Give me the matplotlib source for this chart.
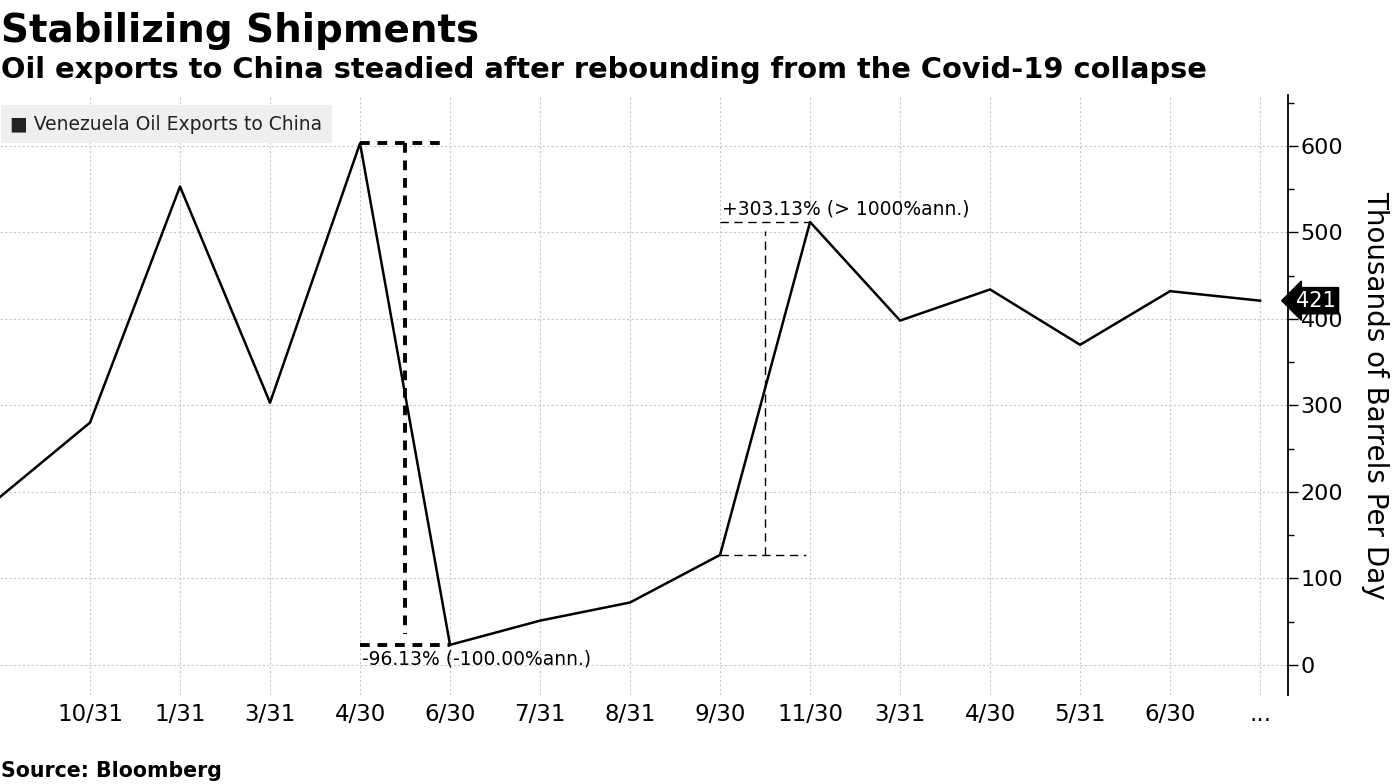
import numpy as np
import matplotlib
matplotlib.use('Agg')
from matplotlib import pyplot as plt
from matplotlib.ticker import MultipleLocator

# datos
labels = ['', '10/31', '1/31', '3/31', '4/30', '6/30', '7/31', '8/31', '9/30',
          '11/30', '3/31', '4/30', '5/31', '6/30', '...']
exports = [194, 280, 553, 303, 603, 23, 51, 72, 127, 512, 398, 434, 370, 432, 421]
drop_txt = '-96.13% (-100.00%ann.)'
rise_txt = '+303.13% (> 1000%ann.)'

fig = plt.figure(figsize=(13.95, 7.84), dpi=100)
ax = fig.add_axes([0.0, 0.1135, 0.9233, 0.7655])

x = np.arange(len(exports))
ax.plot(x, exports, color='black', lw=1.8, zorder=3)

ax.set_xlim(0, 14.31)
ax.set_ylim(-35, 659)
ax.set_xticks(x[1:])
ax.set_xticklabels(labels[1:], fontsize=16.5)
ax.tick_params(axis='x', length=0, pad=6)

ax.yaxis.tick_right()
ax.set_yticks([0, 100, 200, 300, 400, 500, 600])
ax.yaxis.set_minor_locator(MultipleLocator(50))
ax.tick_params(axis='y', which='major', length=7, width=1, labelsize=16, pad=2)
ax.tick_params(axis='y', which='minor', length=4, width=1)
fig.text(0.9857, 0.496, 'Thousands of Barrels Per Day', rotation=-90, fontsize=20,
         ha='center', va='center')

for s in ['top', 'left', 'bottom']:
    ax.spines[s].set_visible(False)
ax.spines['right'].set_linewidth(1.3)
ax.grid(True, color='#c8c8c8', ls=(0, (2, 2)), lw=0.8)
ax.set_axisbelow(True)

# caida 4/30 -> 6/30 (punteada gruesa)
i0, i1 = 4, 5
xm = (i0 + i1) / 2
ax.plot([i0, i1 - 0.05], [exports[i0], exports[i0]], color='black', lw=2.8, ls=(0, (2.5, 2)))
ax.plot([i0, i1], [exports[i1], exports[i1]], color='black', lw=2.8, ls=(0, (2.5, 2)))
ax.plot([xm, xm], [exports[i0], exports[i1] + 12], color='black', lw=2.8, ls=(0, (2.5, 2)))
ax.text(i0 + 0.02, exports[i1] - 5, drop_txt, fontsize=13.5, va='top', ha='left')

# subida 9/30 -> 11/30 (punteada fina)
j0, j1 = 8, 9
xm2 = (j0 + j1) / 2
ax.plot([j0, j1 - 0.05], [exports[j0], exports[j0]], color='black', lw=1, ls=(0, (6, 4)))
ax.plot([j0, j1], [exports[j1], exports[j1]], color='black', lw=1, ls=(0, (6, 4)))
ax.plot([xm2, xm2], [exports[j0], exports[j1] - 10], color='black', lw=1, ls=(0, (6, 4)))
ax.text(j0 + 0.02, exports[j1] + 4, rise_txt, fontsize=13.5, va='bottom', ha='left')

# leyenda
ax.text(0.008, 0.951, '\u25a0 Venezuela Oil Exports to China', transform=ax.transAxes,
        fontsize=13.5, va='center', ha='left', color='#222222',
        bbox=dict(boxstyle='square,pad=0.5', facecolor='#efefef', edgecolor='none'))

# ultimo valor
ax.text(1.006, exports[-1], str(exports[-1]), transform=ax.get_yaxis_transform(),
        fontsize=15, color='white', va='center', ha='left', zorder=5, clip_on=False,
        bbox=dict(boxstyle='larrow,pad=0.15', facecolor='black', edgecolor='black'))

fig.text(0.001, 0.961, 'Stabilizing Shipments', fontsize=28, fontweight='bold', va='center')
fig.text(0.001, 0.911, 'Oil exports to China steadied after rebounding from the Covid-19 collapse',
         fontsize=20.8, fontweight='bold', va='center')
fig.text(0.001, 0.017, 'Source: Bloomberg', fontsize=14.8, fontweight='bold', va='center')

fig.savefig('out.png', dpi=100)
